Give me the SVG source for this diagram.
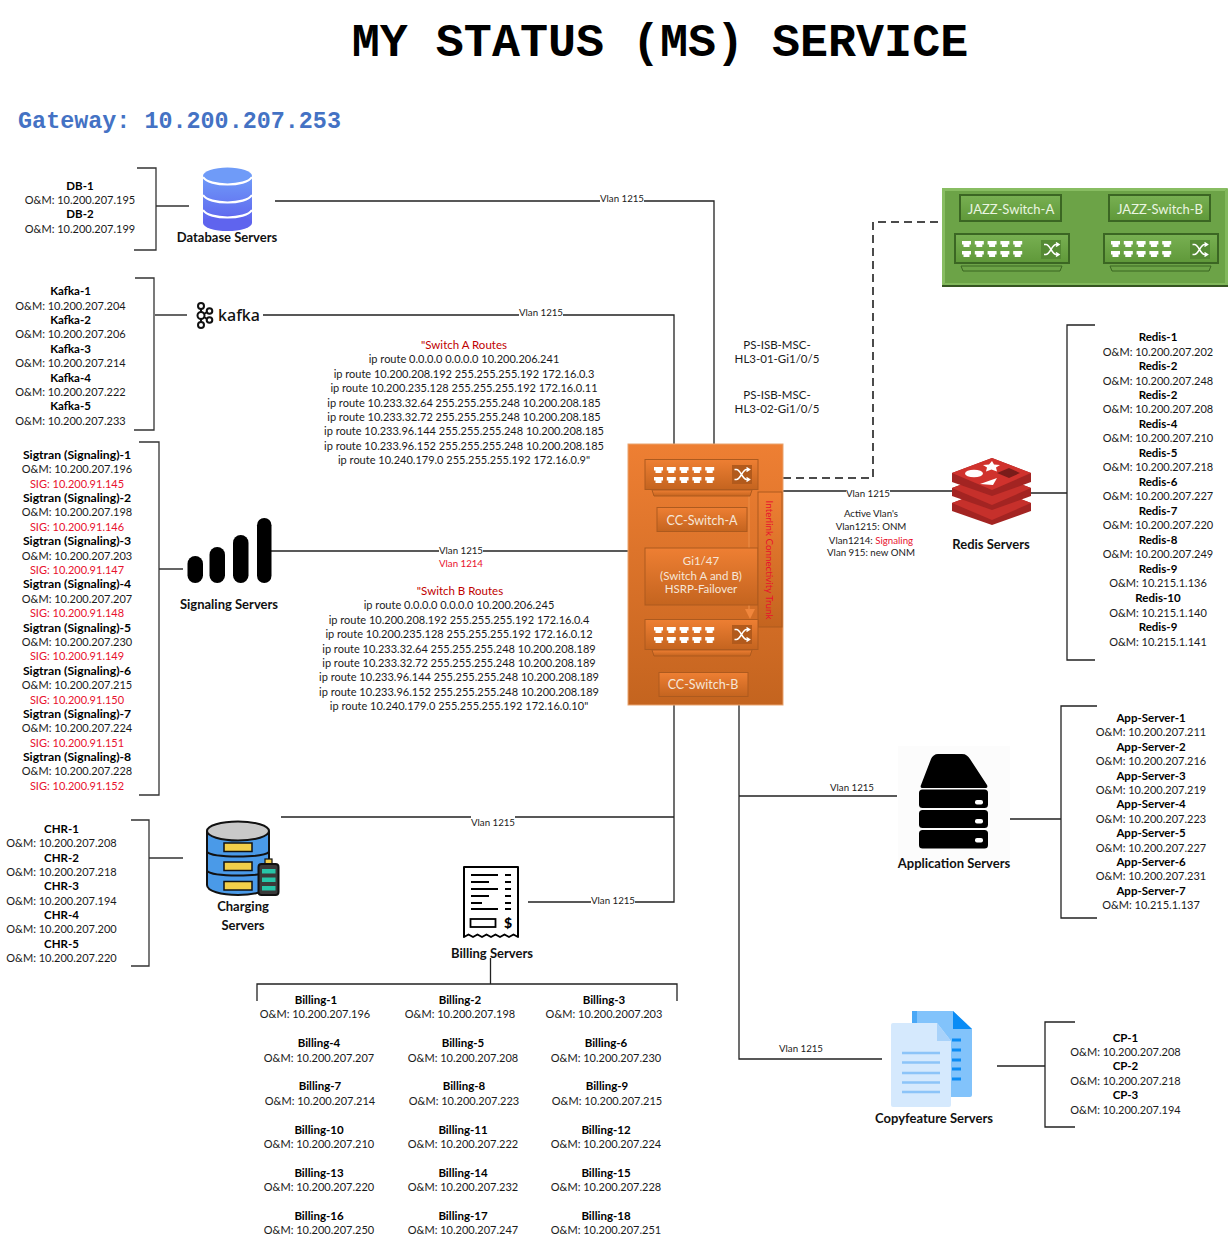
<svg xmlns="http://www.w3.org/2000/svg" width="1229" height="1248" viewBox="0 0 1229 1248">
<style>
text{font-family:Lato,"Noto Sans",sans-serif;font-size:11px;text-anchor:middle;fill:#1a1a1a}
.b{font-weight:700;font-size:11.500px;fill:#000}
.s{font-weight:700;font-size:12.200px;fill:#000}
.lab{font-size:13px;font-weight:700;fill:#111}
.r{fill:#e8112d}
.dr{fill:#c00000;font-size:11.500px}
.v{font-size:9.700px}
.w{fill:#f6e6d8;font-size:12.500px}
.wg{fill:#eaf5e0;font-size:13px}
.c{fill:none;stroke:#222;stroke-width:1.300}
.bk{fill:none;stroke:#333;stroke-width:1.300}
.or{fill:url(#og);stroke:#ad5a1e;stroke-width:1}
.gr{fill:url(#gg);stroke:#3b6623;stroke-width:2}
</style>
<defs>
<linearGradient id="og" x1="0" y1="0" x2="0" y2="1"><stop offset="0" stop-color="#ee7f33"/><stop offset="1" stop-color="#c4641f"/></linearGradient>
<linearGradient id="gg" x1="0" y1="0" x2="0" y2="1"><stop offset="0" stop-color="#78b052"/><stop offset="1" stop-color="#5f9839"/></linearGradient>
<linearGradient id="db" x1="0" y1="0" x2="0" y2="1"><stop offset="0" stop-color="#6f9bf8"/><stop offset="1" stop-color="#5f64ee"/></linearGradient>
<g id="ports" fill="#fff"><path id="p1" d="M0 0h9v3.500h-1.500v2.500h-6v-2.500h-1.500z"/><use href="#p1" x="12.800"/><use href="#p1" x="25.600"/><use href="#p1" x="38.400"/><use href="#p1" x="51.200"/><use href="#p1" y="10"/><use href="#p1" x="12.800" y="10"/><use href="#p1" x="25.600" y="10"/><use href="#p1" x="38.400" y="10"/><use href="#p1" x="51.200" y="10"/></g>
<g id="xsh" fill="none" stroke="#fff" stroke-width="1.500"><path d="M0 2h2c4 0 6 10 10 10h3M0 12h2c4 0 6-10 10-10h3M12 0l3 2-3 2M12 10l3 2-3 2"/></g>
</defs>
<rect width="1229" height="1248" fill="#fff"/>
<text x="660" y="56" style="font-family:'Liberation Mono',monospace;font-size:46.700px;font-weight:700;fill:#000">MY STATUS (MS) SERVICE</text>
<text x="179.500" y="128" style="font-family:'Liberation Mono',monospace;font-size:23.400px;font-weight:700;fill:#4472c4">Gateway: 10.200.207.253</text>

<g id="connectors">
<path class="bk" d="M137 168H156V250H134M156 206H189"/>
<path class="c" d="M275 201H714V444"/>
<path class="bk" d="M135 278H154V430H134M155 315H187"/>
<path class="c" d="M263 315H674V444"/>
<path class="bk" d="M139 442H159V795H139M159 569H183"/>
<path class="c" d="M271 551H628"/>
<path class="bk" d="M131 820H149V966H131M149 858H183"/>
<path class="c" d="M281 817H674M674 705V902H528"/>
<path class="c" d="M490.500 958V984M257 1001V984H677V1001"/>
<path class="c" d="M739 705V1059H882M739 796H897"/>
<path class="c" d="M782 491H952M1031 493H1067M1095 325H1067V660H1095"/>
<path class="c" d="M1097 706H1061V918H1097M1010 819H1061"/>
<path class="c" d="M1075 1022H1045V1127H1075M997 1066H1045"/>
<path d="M783 478H873V222H942" fill="none" stroke="#111" stroke-width="1.500" stroke-dasharray="8 5"/>
<g fill="#fff"><rect x="600" y="193" width="44" height="14"/><rect x="519" y="307" width="44" height="14"/><rect x="439" y="544" width="44" height="14"/><rect x="471" y="815" width="44" height="14"/><rect x="591" y="894" width="44" height="14"/><rect x="846" y="486" width="44" height="14"/></g>
<text x="622" y="202" class="v">Vlan 1215</text>
<text x="541" y="316" class="v">Vlan 1215</text>
<text x="461" y="554" class="v">Vlan 1215</text>
<text x="461" y="567" class="v r">Vlan 1214</text>
<text x="493" y="826" class="v">Vlan 1215</text>
<text x="613" y="904" class="v">Vlan 1215</text>
<text x="868" y="497" class="v">Vlan 1215</text>
<text x="852" y="791" class="v">Vlan 1215</text>
<text x="801" y="1052" class="v">Vlan 1215</text>
</g>

<g id="db-servers">
<text x="80" y="190" class="b">DB-1</text><text x="80" y="204">O&amp;M: 10.200.207.195</text><text x="80" y="218" class="b">DB-2</text><text x="80" y="233">O&amp;M: 10.200.207.199</text>
<rect x="203" y="176" width="49" height="47" fill="url(#db)"/><ellipse cx="227.500" cy="223" rx="24.500" ry="8" fill="#5f64ee"/><ellipse cx="227.500" cy="176" rx="24.500" ry="8.500" fill="#6f9bf8"/>
<path d="M203 177c6 10 43 10 49 0M203 195c6 10 43 10 49 0M203 210c6 10 43 10 49 0" fill="none" stroke="#fff" stroke-width="2.200"/>
<text x="227" y="242" class="lab">Database Servers</text>
</g>

<g id="kafka-servers">
<text x="70.500" y="295" class="b">Kafka-1</text><text x="70.500" y="310">O&amp;M: 10.200.207.204</text><text x="70.500" y="324" class="b">Kafka-2</text><text x="70.500" y="338">O&amp;M: 10.200.207.206</text><text x="70.500" y="353" class="b">Kafka-3</text><text x="70.500" y="367">O&amp;M: 10.200.207.214</text><text x="70.500" y="382" class="b">Kafka-4</text><text x="70.500" y="396">O&amp;M: 10.200.207.222</text><text x="70.500" y="410" class="b">Kafka-5</text><text x="70.500" y="425">O&amp;M: 10.200.207.233</text>
<g fill="none" stroke="#111" stroke-width="2"><circle cx="201" cy="306" r="3"/><circle cx="201" cy="325" r="3"/><circle cx="209.500" cy="311" r="2.800"/><circle cx="209.500" cy="320" r="2.800"/><circle cx="201" cy="315.500" r="3.500"/><path d="M201 309v3M201 319v3M204 314l3-2M204 317l3 2"/></g>
<text x="239" y="320.500" style="font-family:'Noto Sans',sans-serif;font-size:16px;font-weight:500;fill:#111">kafka</text>
</g>

<g id="signaling-servers">
<text x="77" y="459" class="s">Sigtran (Signaling)-1</text><text x="77" y="473">O&amp;M: 10.200.207.196</text><text x="77" y="488" class="r">SIG: 10.200.91.145</text>
<text x="77" y="502" class="s">Sigtran (Signaling)-2</text><text x="77" y="516">O&amp;M: 10.200.207.198</text><text x="77" y="531" class="r">SIG: 10.200.91.146</text>
<text x="77" y="545" class="s">Sigtran (Signaling)-3</text><text x="77" y="560">O&amp;M: 10.200.207.203</text><text x="77" y="574" class="r">SIG: 10.200.91.147</text>
<text x="77" y="588" class="s">Sigtran (Signaling)-4</text><text x="77" y="603">O&amp;M: 10.200.207.207</text><text x="77" y="617" class="r">SIG: 10.200.91.148</text>
<text x="77" y="632" class="s">Sigtran (Signaling)-5</text><text x="77" y="646">O&amp;M: 10.200.207.230</text><text x="77" y="660" class="r">SIG: 10.200.91.149</text>
<text x="77" y="675" class="s">Sigtran (Signaling)-6</text><text x="77" y="689">O&amp;M: 10.200.207.215</text><text x="77" y="704" class="r">SIG: 10.200.91.150</text>
<text x="77" y="718" class="s">Sigtran (Signaling)-7</text><text x="77" y="732">O&amp;M: 10.200.207.224</text><text x="77" y="747" class="r">SIG: 10.200.91.151</text>
<text x="77" y="761" class="s">Sigtran (Signaling)-8</text><text x="77" y="775">O&amp;M: 10.200.207.228</text><text x="77" y="790" class="r">SIG: 10.200.91.152</text>
<g fill="#000"><rect x="187.500" y="556" width="15.500" height="27" rx="7.700"/><rect x="209.500" y="547" width="15.500" height="36" rx="7.700"/><rect x="233" y="535" width="15.500" height="48" rx="7.700"/><rect x="257" y="518" width="14.500" height="65" rx="7.200"/></g>
<text x="229" y="609" class="lab">Signaling Servers</text>
</g>

<g id="switch-a-routes">
<text x="464" y="349" class="dr">"Switch A Routes</text>
<text x="464" y="363">ip route 0.0.0.0 0.0.0.0 10.200.206.241</text>
<text x="464" y="378">ip route 10.200.208.192 255.255.255.192 172.16.0.3</text>
<text x="464" y="392">ip route 10.200.235.128 255.255.255.192 172.16.0.11</text>
<text x="464" y="407">ip route 10.233.32.64 255.255.255.248 10.200.208.185</text>
<text x="464" y="421">ip route 10.233.32.72 255.255.255.248 10.200.208.185</text>
<text x="464" y="435">ip route 10.233.96.144 255.255.255.248 10.200.208.185</text>
<text x="464" y="450">ip route 10.233.96.152 255.255.255.248 10.200.208.185</text>
<text x="464" y="464">ip route 10.240.179.0 255.255.255.192 172.16.0.9"</text>
</g>
<g id="switch-b-routes">
<text x="460" y="595" class="dr">"Switch B Routes</text>
<text x="459" y="609">ip route 0.0.0.0 0.0.0.0 10.200.206.245</text>
<text x="459" y="624">ip route 10.200.208.192 255.255.255.192 172.16.0.4</text>
<text x="459" y="638">ip route 10.200.235.128 255.255.255.192 172.16.0.12</text>
<text x="459" y="653">ip route 10.233.32.64 255.255.255.248 10.200.208.189</text>
<text x="459" y="667">ip route 10.233.32.72 255.255.255.248 10.200.208.189</text>
<text x="459" y="681">ip route 10.233.96.144 255.255.255.248 10.200.208.189</text>
<text x="459" y="696">ip route 10.233.96.152 255.255.255.248 10.200.208.189</text>
<text x="459" y="710">ip route 10.240.179.0 255.255.255.192 172.16.0.10"</text>
</g>

<g id="uplinks"><text x="777" y="349" style="font-size:11.500px">PS-ISB-MSC-</text><text x="777" y="363" style="font-size:11.500px">HL3-01-Gi1/0/5</text><text x="777" y="399" style="font-size:11.500px">PS-ISB-MSC-</text><text x="777" y="413" style="font-size:11.500px">HL3-02-Gi1/0/5</text></g>

<g id="cc-switch">
<rect x="628" y="444" width="155" height="261" fill="url(#og)" stroke="#e9a36f"/>
<path d="M749 491V612" stroke="#e9873f" stroke-width="1.500"/><path d="M745 609h10l-5 10z" fill="#f0863c"/>
<rect x="645" y="459.500" width="113" height="30" class="or"/><path d="M652 490h100l-2 6h-96z" class="or"/>
<use href="#ports" x="654" y="467"/><rect x="732" y="465" width="20" height="19" fill="#b25a1c"/><use href="#xsh" x="734.500" y="467.500"/>
<rect x="657" y="507.500" width="90" height="24" class="or"/><text x="702" y="525" class="w">CC-Switch-A</text>
<rect x="645" y="548" width="113" height="57" class="or"/><text x="701" y="565" class="w" style="font-size:11.500px">Gi1/47</text><text x="701" y="580" class="w" style="font-size:11.500px">(Switch A and B)</text><text x="701" y="593" class="w" style="font-size:11.500px">HSRP-Failover</text>
<rect x="758" y="492" width="24" height="135" class="or"/><text transform="translate(765.500 560) rotate(90)" class="r" style="font-size:9.800px">Interlink Connectivity Trunk</text>
<rect x="645" y="619.500" width="113" height="30" class="or"/><path d="M652 650h100l-2 6h-96z" class="or"/>
<use href="#ports" x="654" y="627"/><rect x="732" y="625" width="20" height="19" fill="#b25a1c"/><use href="#xsh" x="734.500" y="627.500"/>
<rect x="659" y="672.500" width="89" height="24" class="or"/><text x="703" y="689" class="w">CC-Switch-B</text>
</g>

<g id="jazz-switch">
<rect x="943" y="189" width="284" height="97" fill="#6ca347"/>
<path d="M942 188h286l-3 3h-280v92l-3 3z" fill="#88bd62"/><path d="M1228 188v98h-286l3-3h280v-92z" fill="#82b85c"/><path d="M942 285h286v2h-286z" fill="#355421"/>
<rect x="960" y="195" width="101" height="26" class="gr"/><text x="1011" y="214" class="wg">JAZZ-Switch-A</text>
<rect x="1109" y="195" width="101" height="26" class="gr"/><text x="1160" y="214" class="wg">JAZZ-Switch-B</text>
<rect x="955" y="234" width="114" height="29" class="gr"/><path d="M961 266h101l-2 5h-97z" fill="#6ca347" stroke="#3b6623"/>
<use href="#ports" x="962" y="241"/><rect x="1041" y="240" width="20" height="19" fill="#558a34"/><use href="#xsh" x="1044" y="242.500"/>
<rect x="1104" y="234" width="114" height="29" class="gr"/><path d="M1110 266h101l-2 5h-97z" fill="#6ca347" stroke="#3b6623"/>
<use href="#ports" x="1111" y="241"/><rect x="1190" y="240" width="20" height="19" fill="#558a34"/><use href="#xsh" x="1192.500" y="242.500"/>
</g>

<g id="vlan-info"><text x="871" y="517" class="v">Active Vlan's</text><text x="871" y="530" class="v">Vlan1215: ONM</text><text x="871" y="544" class="v">Vlan1214: <tspan class="r">Signaling</tspan></text><text x="871" y="556" class="v">Vlan 915: new ONM</text></g>

<g id="redis-servers">
<path d="M952 503v8l40 14 39-14v-8l-39-15z" fill="#a32422"/><path d="M952 503l40 17 39-17-39-15z" fill="#c6302b"/>
<path d="M952 488v8l40 14 39-14v-8l-39-15z" fill="#a32422"/><path d="M952 488l40 17 39-17-39-15z" fill="#c6302b"/>
<path d="M952 473v9l40 14 39-14v-9l-39-15z" fill="#a32422"/><path d="M952 473l40 17 39-17-39-15z" fill="#d0322d"/>
<ellipse cx="974" cy="473.500" rx="9" ry="3.800" fill="#fff"/><path d="M992 461l2 3.500 6 .5-4 2.500 1 4-5.500-2-5.500 2 1-4-4-2.500 6-.5z" fill="#fff"/><path d="M980 484l17-6-4 7z" fill="#fff"/><path d="M997 473l12-5 11 5-11 5z" fill="#7a1c1a"/>
<text x="991" y="549" class="lab">Redis Servers</text>
<text x="1158" y="341" class="b">Redis-1</text><text x="1158" y="356">O&amp;M: 10.200.207.202</text><text x="1158" y="370" class="b">Redis-2</text><text x="1158" y="385">O&amp;M: 10.200.207.248</text><text x="1158" y="399" class="b">Redis-2</text><text x="1158" y="413">O&amp;M: 10.200.207.208</text><text x="1158" y="428" class="b">Redis-4</text><text x="1158" y="442">O&amp;M: 10.200.207.210</text><text x="1158" y="457" class="b">Redis-5</text><text x="1158" y="471">O&amp;M: 10.200.207.218</text><text x="1158" y="486" class="b">Redis-6</text><text x="1158" y="500">O&amp;M: 10.200.207.227</text><text x="1158" y="515" class="b">Redis-7</text><text x="1158" y="529">O&amp;M: 10.200.207.220</text><text x="1158" y="544" class="b">Redis-8</text><text x="1158" y="558">O&amp;M: 10.200.207.249</text><text x="1158" y="573" class="b">Redis-9</text><text x="1158" y="587">O&amp;M: 10.215.1.136</text><text x="1158" y="602" class="b">Redis-10</text><text x="1158" y="617">O&amp;M: 10.215.1.140</text><text x="1158" y="631" class="b">Redis-9</text><text x="1158" y="646">O&amp;M: 10.215.1.141</text>
</g>

<g id="application-servers">
<rect x="898" y="746" width="112" height="114" fill="#fcfcfc"/>
<path d="M938 754h24c4 0 6 2 8 5l17 26c1 2 0 3-2 3h-62c-2 0-3-1-2-3l10-26c1-3 4-5 7-5z" fill="#000"/>
<rect x="919" y="789.500" width="69" height="18.500" rx="3.500" fill="#000"/><rect x="919" y="810" width="69" height="18" rx="3.500" fill="#000"/><rect x="919" y="830" width="69" height="18.500" rx="3.500" fill="#000"/>
<g fill="#fff"><rect x="975" y="800" width="8" height="4.500" rx="2"/><rect x="975" y="819" width="8" height="4.500" rx="2"/><rect x="975" y="838" width="8" height="4.500" rx="2"/></g>
<text x="954" y="868" class="lab">Application Servers</text>
<text x="1151" y="722" class="b">App-Server-1</text><text x="1151" y="736">O&amp;M: 10.200.207.211</text><text x="1151" y="751" class="b">App-Server-2</text><text x="1151" y="765">O&amp;M: 10.200.207.216</text><text x="1151" y="780" class="b">App-Server-3</text><text x="1151" y="794">O&amp;M: 10.200.207.219</text><text x="1151" y="808" class="b">App-Server-4</text><text x="1151" y="823">O&amp;M: 10.200.207.223</text><text x="1151" y="837" class="b">App-Server-5</text><text x="1151" y="852">O&amp;M: 10.200.207.227</text><text x="1151" y="866" class="b">App-Server-6</text><text x="1151" y="880">O&amp;M: 10.200.207.231</text><text x="1151" y="895" class="b">App-Server-7</text><text x="1151" y="909">O&amp;M: 10.215.1.137</text>
</g>

<g id="charging-servers">
<text x="61.500" y="833" class="b">CHR-1</text><text x="61.500" y="847">O&amp;M: 10.200.207.208</text><text x="61.500" y="862" class="b">CHR-2</text><text x="61.500" y="876">O&amp;M: 10.200.207.218</text><text x="61.500" y="890" class="b">CHR-3</text><text x="61.500" y="905">O&amp;M: 10.200.207.194</text><text x="61.500" y="919" class="b">CHR-4</text><text x="61.500" y="933">O&amp;M: 10.200.207.200</text><text x="61.500" y="948" class="b">CHR-5</text><text x="61.500" y="962">O&amp;M: 10.200.207.220</text>
<path d="M207 832v53c0 6 14 10 31 10s31-4 31-10v-53z" fill="#4a9ae8" stroke="#111" stroke-width="2"/>
<ellipse cx="238" cy="831" rx="31" ry="9.500" fill="#c9c9c9" stroke="#111" stroke-width="2"/>
<path d="M207 852c6 6 56 6 62 0M207 871c6 6 56 6 62 0" fill="none" stroke="#111" stroke-width="2"/>
<g fill="#f2cf4a" stroke="#111" stroke-width="1.500"><rect x="224" y="843" width="28" height="8.500"/><rect x="224" y="862" width="28" height="8.500"/><rect x="224" y="881.500" width="28" height="8.500"/></g>
<rect x="265" y="859" width="7" height="5" fill="#f2cf4a" stroke="#111" stroke-width="1.200"/>
<rect x="258.500" y="864" width="20" height="31" rx="3" fill="#3a3a3a" stroke="#111" stroke-width="2"/>
<g fill="#27c4a8"><rect x="262" y="869" width="13.500" height="4.500"/><rect x="262" y="877.500" width="13.500" height="4.500"/><rect x="262" y="886" width="13.500" height="4.500"/></g>
<text x="243" y="911" class="lab">Charging</text><text x="243" y="930" class="lab">Servers</text>
</g>

<g id="billing-servers">
<path d="M464 867h54v70l-4.500-2.500-4.500 2.500-4.500-2.500-4.500 2.500-4.500-2.500-4.500 2.500-4.500-2.500-4.500 2.500-4.500-2.500-4.500 2.500-4.500-2.500-4.500 2.500z" fill="#fff" stroke="#000" stroke-width="2" stroke-linejoin="round"/>
<path d="M471 875h27M471 882h18M471 889h27M471 896h18M471 903h11M471 909h27M505 875h6M505 882h6M505 889h6M505 896h6M505 903h6M505 909h6" stroke="#000" stroke-width="1.800"/>
<rect x="470.500" y="919" width="25" height="8" fill="none" stroke="#000" stroke-width="1.800"/>
<text x="508" y="928" style="font-size:14px;font-weight:900;fill:#000">$</text>
<text x="492" y="958" class="lab">Billing Servers</text>
<text x="316" y="1004" class="b">Billing-1</text><text x="315" y="1018">O&amp;M: 10.200.207.196</text><text x="460" y="1004" class="b">Billing-2</text><text x="460" y="1018">O&amp;M: 10.200.207.198</text><text x="604" y="1004" class="b">Billing-3</text><text x="604" y="1018">O&amp;M: 10.200.2007.203</text>
<text x="319" y="1047" class="b">Billing-4</text><text x="319" y="1062">O&amp;M: 10.200.207.207</text><text x="463" y="1047" class="b">Billing-5</text><text x="463" y="1062">O&amp;M: 10.200.207.208</text><text x="606" y="1047" class="b">Billing-6</text><text x="606" y="1062">O&amp;M: 10.200.207.230</text>
<text x="320" y="1090" class="b">Billing-7</text><text x="320" y="1105">O&amp;M: 10.200.207.214</text><text x="464" y="1090" class="b">Billing-8</text><text x="464" y="1105">O&amp;M: 10.200.207.223</text><text x="607" y="1090" class="b">Billing-9</text><text x="607" y="1105">O&amp;M: 10.200.207.215</text>
<text x="319" y="1134" class="b">Billing-10</text><text x="319" y="1148">O&amp;M: 10.200.207.210</text><text x="463" y="1134" class="b">Billing-11</text><text x="463" y="1148">O&amp;M: 10.200.207.222</text><text x="606" y="1134" class="b">Billing-12</text><text x="606" y="1148">O&amp;M: 10.200.207.224</text>
<text x="319" y="1177" class="b">Billing-13</text><text x="319" y="1191">O&amp;M: 10.200.207.220</text><text x="463" y="1177" class="b">Billing-14</text><text x="463" y="1191">O&amp;M: 10.200.207.232</text><text x="606" y="1177" class="b">Billing-15</text><text x="606" y="1191">O&amp;M: 10.200.207.228</text>
<text x="319" y="1220" class="b">Billing-16</text><text x="319" y="1234">O&amp;M: 10.200.207.250</text><text x="463" y="1220" class="b">Billing-17</text><text x="463" y="1234">O&amp;M: 10.200.207.247</text><text x="606" y="1220" class="b">Billing-18</text><text x="606" y="1234">O&amp;M: 10.200.207.251</text>
</g>

<g id="copyfeature-servers">
<path d="M912 1013q0-2 2-2h39l19 18v66q0 2-2 2h-56q-2 0-2-2z" fill="#82c3fb"/><path d="M953 1011l19 18h-19z" fill="#0a8cf5"/><rect x="912" y="1011" width="5" height="86" fill="#4aa8f6"/>
<path d="M891 1025q0-2 2-2h44l14 18v64q0 2-2 2h-56q-2 0-2-2z" fill="#d5e9fd"/><path d="M937 1023l14 18h-14z" fill="#a8d2fa"/>
<g stroke="#8cc4f8" stroke-width="2.600"><path d="M902 1053h38M902 1062.500h38M902 1073h38M902 1082.500h38M902 1092h38"/></g>
<g stroke="#0a8cf5" stroke-width="2.800"><path d="M952 1040h9M952 1050h9M952 1060h9M952 1069h9M952 1079h9"/></g>
<text x="934" y="1123" class="lab">Copyfeature Servers</text>
<text x="1125.500" y="1042" class="b">CP-1</text><text x="1125.500" y="1056">O&amp;M: 10.200.207.208</text><text x="1125.500" y="1070" class="b">CP-2</text><text x="1125.500" y="1085">O&amp;M: 10.200.207.218</text><text x="1125.500" y="1099" class="b">CP-3</text><text x="1125.500" y="1114">O&amp;M: 10.200.207.194</text>
</g>
</svg>
